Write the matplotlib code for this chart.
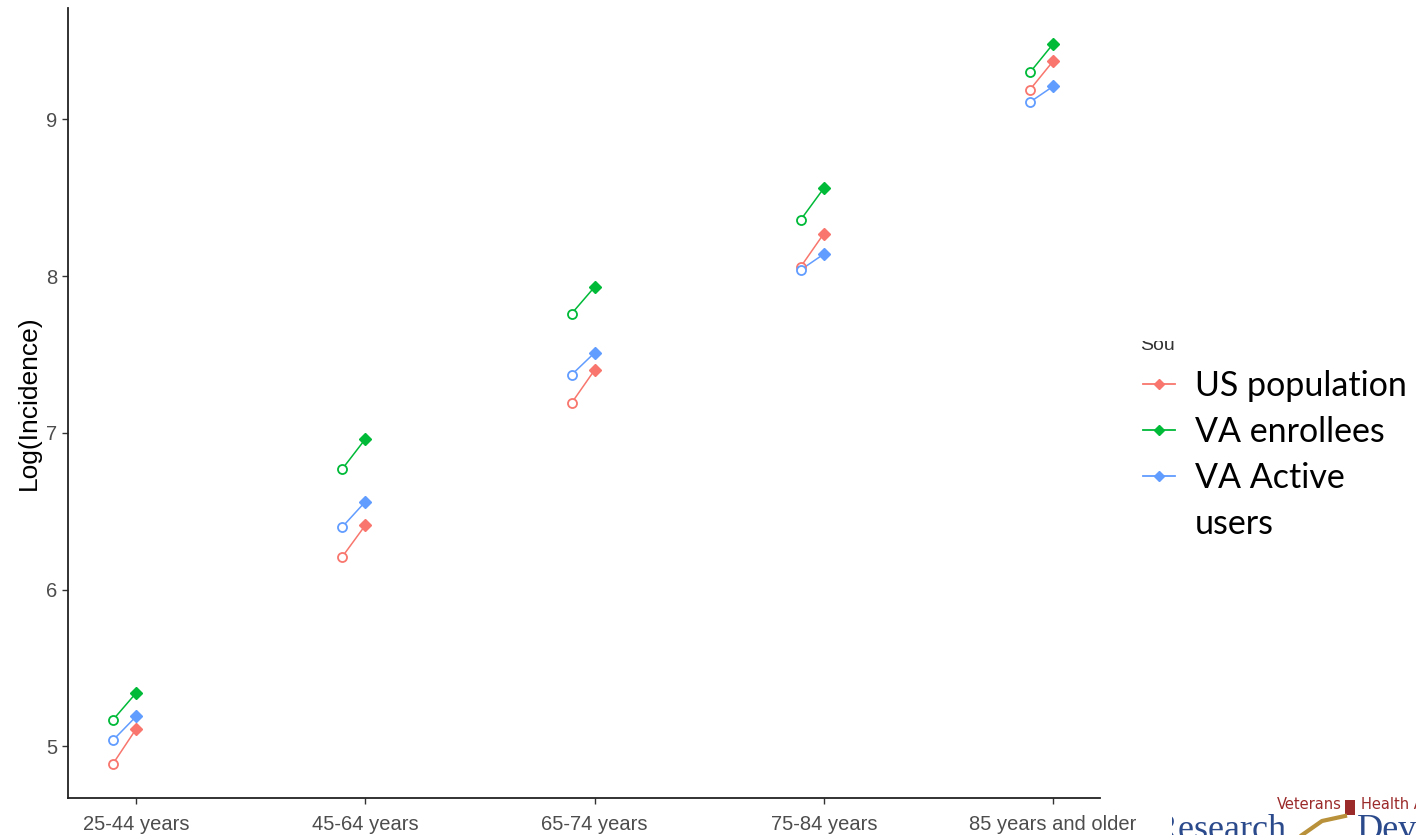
import matplotlib
matplotlib.use("Agg")
import matplotlib.pyplot as plt
from matplotlib.lines import Line2D
from matplotlib.patches import Rectangle
import numpy as np

categories = ["25-44 years", "45-64 years", "65-74 years", "75-84 years", "85 years and older"]
series_names = ["US population", "VA enrollees", "VA Active users"]
series_colors = ["#F8766D", "#00BA38", "#619CFF"]

# (open marker value, filled marker value) per category
us_open = [4.89, 6.21, 7.19, 8.06, 9.19]
us_filled = [5.11, 6.41, 7.40, 8.27, 9.37]
va_enr_open = [5.17, 6.77, 7.76, 8.36, 9.30]
va_enr_filled = [5.34, 6.96, 7.93, 8.56, 9.48]
va_act_open = [5.04, 6.40, 7.37, 8.04, 9.11]
va_act_filled = [5.19, 6.56, 7.51, 8.14, 9.21]

yticks = [5, 6, 7, 8, 9]

fig = plt.figure(figsize=(14.16, 8.35), dpi=100)
ax = fig.add_axes([68/1416, 1-798/835, (1100-68)/1416, (798-8)/835])

opens = [us_open, va_enr_open, va_act_open]
filleds = [us_filled, va_enr_filled, va_act_filled]
offset = 0.1
x = np.arange(len(categories))
for o, f, c in zip(opens, filleds, series_colors):
    for i in range(len(categories)):
        ax.plot([x[i]-offset, x[i]], [o[i], f[i]], color=c, lw=1.1, zorder=2)
    ax.plot(x-offset, o, ls="none", marker="o", ms=6.5, mfc="white", mec=c, mew=1.3, zorder=3)
    ax.plot(x, f, ls="none", marker="D", ms=6, mfc=c, mec=c, zorder=3)

ax.set_xlim(-0.297, 4.205)
ax.set_ylim(4.67, 9.71)
ax.set_xticks(x)
ax.set_xticklabels(categories, family=["Liberation Sans", "DejaVu Sans"])
ax.set_yticks(yticks)
ax.set_yticklabels([str(t) for t in yticks], family=["Liberation Sans", "DejaVu Sans"])
ax.tick_params(axis="both", colors="#333333", labelcolor="#4D4D4D", labelsize=14.5, length=4, width=1)
ax.tick_params(axis="x", pad=8)
ax.spines["top"].set_visible(False)
ax.spines["right"].set_visible(False)
for s in ["left", "bottom"]:
    ax.spines[s].set_color("#222222")
    ax.spines[s].set_linewidth(1.3)
ax.set_ylabel("Log(Incidence)", fontsize=19, color="black", labelpad=4,
              family=["Liberation Sans", "DejaVu Sans"])

# legend drawn manually
W, H = 1416, 835
def fx(px): return px / W
def fy(py): return 1 - py / H

fig.text(fx(1140), fy(350), "Sou", fontsize=14, color="#333333", ha="left", va="baseline",
         family=["Liberation Sans", "DejaVu Sans"])
fig.add_artist(Rectangle((fx(1130), fy(341)), fx(80), fy(300)-fy(341), transform=fig.transFigure,
                         facecolor="white", edgecolor="none", zorder=5))
row_y = [384, 430, 476]
for yy, c in zip(row_y, series_colors):
    fig.add_artist(Line2D([fx(1143), fx(1175)], [fy(yy), fy(yy)], transform=fig.transFigure,
                          color=c, lw=1.3))
    fig.add_artist(Line2D([fx(1159)], [fy(yy)], transform=fig.transFigure, color=c,
                          marker="D", ms=5, ls="none"))
label_lines = [series_names[0], series_names[1], "VA Active", "users"]
for k, t in enumerate(label_lines):
    fig.text(fx(1195), fy(386 + 46*k), t, fontsize=24.5, family=["Lato", "DejaVu Sans"],
             color="black", ha="left", va="center")

# logo fragment at bottom right
fig.text(fx(1277), fy(809), "Veterans", fontsize=10.5, color="#9B2A2A", ha="left", va="baseline")
fig.text(fx(1361), fy(809), "Health A", fontsize=10.5, color="#9B2A2A", ha="left", va="baseline")
fig.add_artist(Rectangle((fx(1345), fy(815)), fx(10), fy(800)-fy(815), transform=fig.transFigure,
                         facecolor="#9B2A2A", edgecolor="none"))
fig.add_artist(Line2D([fx(1302), fx(1322), fx(1345)], [fy(835), fy(821), fy(816)],
                      transform=fig.transFigure, color="#B8913A", lw=3))
fig.text(fx(1154), fy(839), "Research", fontsize=26, family="Liberation Serif", color="#2B4A8C",
         ha="left", va="baseline")
fig.add_artist(Rectangle((fx(1140), fy(835)), fx(32), fy(805)-fy(835), transform=fig.transFigure,
                         facecolor="white", edgecolor="none", zorder=5))
fig.text(fx(1357), fy(839), "Dev", fontsize=26, family="Liberation Serif", color="#2B4A8C",
         ha="left", va="baseline")

fig.savefig("out.png", dpi=100)
